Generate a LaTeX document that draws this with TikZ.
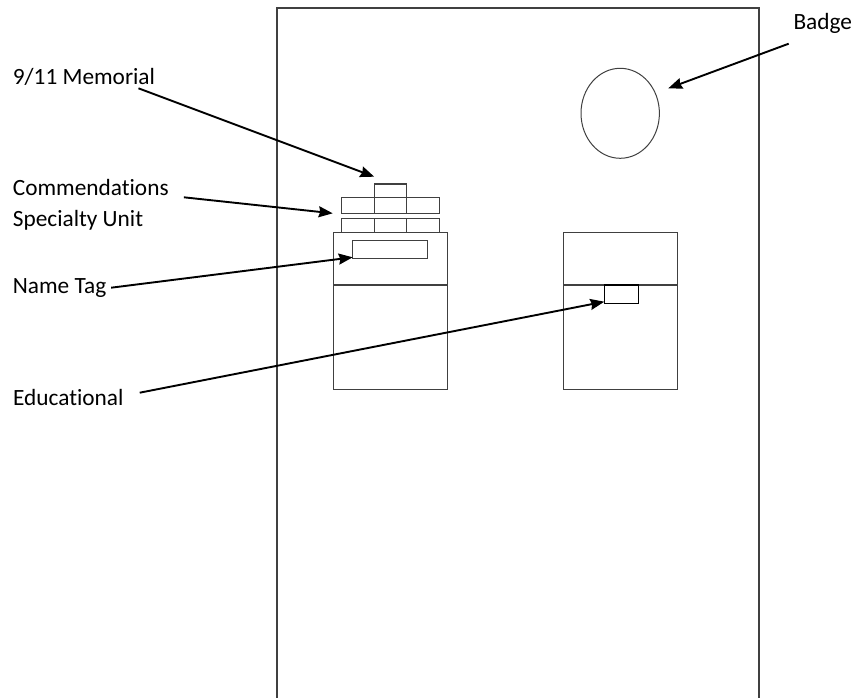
\documentclass[tikz,border=0pt]{standalone}
\usepackage{fontspec}
\setmainfont{Carlito}[Ligatures=CommonOff]
\usetikzlibrary{arrows.meta,positioning,shapes.geometric}

\begin{document}
\begin{tikzpicture}[x=1pt,y=-1pt,
  lbl/.style={anchor=base west,inner sep=0pt,font=\fontsize{23.3}{28}\selectfont},
  part/.style={draw=black!75,line width=1.2pt,inner sep=0pt,outer sep=0pt,anchor=north west},
  arr/.style={-{Stealth[length=14pt,width=11pt,inset=1.5pt]},line width=1.9pt}]
\useasboundingbox (0,0) rectangle (851,698);
\draw[part] (277,710) -- (277,8) -- (759,8) -- (759,710);

\node[part,ellipse,line width=1pt,minimum width=78.4pt,minimum height=90pt,anchor=center] (badge) at (620.2,113.3) {};

\node[part,minimum width=114pt,minimum height=156.7pt] (lpocket) at (333.3,232.7) {};
\draw[part] (333.3,285) -- (447.3,285);
\node[part,minimum width=114pt,minimum height=156.7pt] (rpocket) at (563.3,232.7) {};
\draw[part] (563.3,285) -- (677.3,285);

\foreach \i in {0,1,2} {
  \node[part,minimum width=32.5pt,minimum height=15.6pt] (comm\i) at ({341.7+32.5*\i},197.7) {};
  \node[part,minimum width=32.5pt,minimum height=14.4pt] (unit\i) at ({341.7+32.5*\i},218.3) {};
}
\node[part,minimum width=32.5pt,minimum height=13.7pt] (memorial) at (374.2,184) {};
\node[part,minimum width=75pt,minimum height=17.6pt] (nametag) at (352.7,240.7) {};
\node[part,draw=black,minimum width=34.4pt,minimum height=18.3pt] (edupin) at (604.3,285) {};

\node[lbl] (memlbl) at (12.7,85) {9/11 Memorial};
\node[lbl] (commlbl) at (12.7,195) {Commendations};
\node[lbl] (unitlbl) at (12.7,226.7) {Specialty Unit};
\node[lbl] (taglbl) at (12.7,293.3) {Name Tag};
\node[lbl] (edulbl) at (13,405) {Educational};
\node[lbl] (badgelbl) at (793.3,30) {Badge};

\draw[arr] ([xshift=-16.7pt,yshift=-3.3pt]memlbl.base east) -- ([yshift=7.3pt]memorial.north west);
\draw[arr] ([xshift=15pt,yshift=-2.3pt]commlbl.base east) -- ([xshift=-9pt]comm0.south west);
\draw[arr] ([xshift=4.7pt,yshift=5.6pt]taglbl.base east) -- ([yshift=1pt]nametag.south west);
\draw[arr] ([xshift=16pt,yshift=12.3pt]edulbl.base east) -- ([yshift=1.6pt]edupin.south west);
\draw[arr] ([xshift=-4.6pt,yshift=-13.7pt]badgelbl.base west) -- ([xshift=8.9pt,yshift=25pt]badge.east);
\end{tikzpicture}
\end{document}
